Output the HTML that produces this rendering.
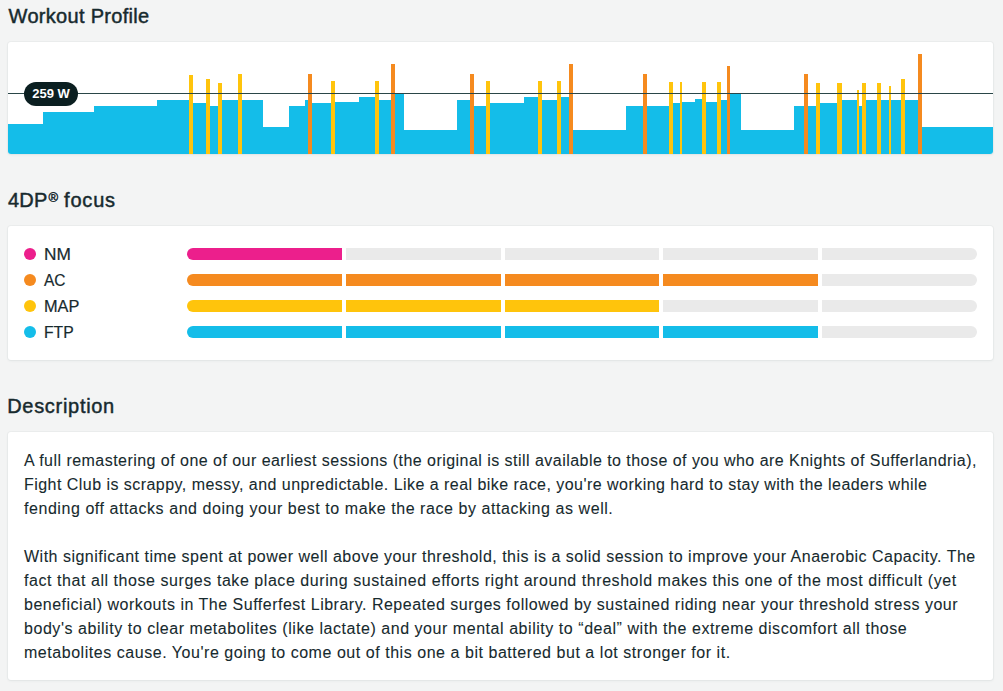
<!DOCTYPE html>
<html><head><meta charset="utf-8">
<style>
*{margin:0;padding:0;box-sizing:border-box}
html,body{width:1003px;height:691px;overflow:hidden;background:#f3f4f4}
body{position:relative;font-family:"Liberation Sans",Arial,sans-serif;color:#172a2e}
.h{position:absolute;left:8px;font-size:20px;line-height:24px;white-space:nowrap;color:#172a2e}
.card{position:absolute;left:8px;width:985px;background:#fff;border-radius:3px;overflow:hidden;box-shadow:0 0 0 1px rgba(40,60,60,0.03),0 1px 3px rgba(40,60,60,0.06)}
#chart{top:42px;height:112px}
#chart svg{position:absolute;left:0;top:0;display:block}
.badge{position:absolute;left:16px;top:40px;width:54px;height:24px;border-radius:12px;background:#0b1f21;color:#fff;font-weight:bold;font-size:13px;line-height:24px;text-align:center}
#fdp{top:226px;height:134px}
.row{position:absolute;left:0;width:985px;height:12px}
.dot{position:absolute;left:16px;top:0;width:12px;height:12px;border-radius:50%}
.lab{position:absolute;left:35.6px;top:-5px;font-size:16px;transform-origin:0 0;line-height:24px;white-space:nowrap;-webkit-text-stroke:0.2px currentColor}
.reg{font-size:13px;position:relative;top:-5px;margin-left:1px;margin-right:1px}
.h{-webkit-text-stroke:0.45px currentColor}
.ln{-webkit-text-stroke:0.08px currentColor}
.segs{position:absolute;left:179px;top:0;width:790px;height:12px;display:flex;gap:4px;border-radius:6px;overflow:hidden}
.segs i{flex:1;height:12px}
#desc{top:432px;height:248px}
.ln{position:absolute;left:16px;font-size:16px;line-height:24px;white-space:nowrap}
</style></head><body>
<div class="h" style="top:4px;left:8.6px;letter-spacing:0.3px">Workout Profile</div>
<div class="card" id="chart">
<svg width="985" height="112" viewBox="0 0 985 112" shape-rendering="crispEdges">
<path d="M0,112 L0,82 L35,82 L35,70 L86,70 L86,64 L149,64 L149,58 L185,58 L185,61 L198,61 L198,64 L210,64 L210,58 L255,58 L255,85 L281,85 L281,64 L297,64 L297,58 L304,58 L304,61 L323,61 L323,60 L351,60 L351,55 L367,55 L367,58 L383,58 L383,52 L396,52 L396,88 L449,88 L449,58 L462,58 L462,64 L478,64 L478,61 L516,61 L516,55 L530,55 L530,58 L549,58 L549,55 L561,55 L561,88 L618,88 L618,64 L661,64 L661,61 L672,61 L672,60 L687,60 L687,57 L694,57 L694,60 L709,60 L709,58 L719,58 L719,52 L733,52 L733,88 L786,88 L786,64 L808,64 L808,61 L829,61 L829,58 L849,58 L849,64 L854,64 L854,58 L910,58 L910,85 L985,85 L985,112 Z" fill="#14bde9"/>
<rect x="181" y="33" width="4" height="79" fill="#ffc40c"/>
<rect x="198" y="37" width="4" height="75" fill="#ffc40c"/>
<rect x="210" y="41" width="4" height="71" fill="#ffc40c"/>
<rect x="230" y="32" width="4" height="80" fill="#ffc40c"/>
<rect x="300" y="32" width="4" height="80" fill="#f58a1f"/>
<rect x="323" y="39" width="4" height="73" fill="#ffc40c"/>
<rect x="367" y="39" width="4" height="73" fill="#ffc40c"/>
<rect x="383" y="22" width="4" height="90" fill="#f58a1f"/>
<rect x="462" y="32" width="4" height="80" fill="#f58a1f"/>
<rect x="478" y="39" width="4" height="73" fill="#ffc40c"/>
<rect x="530" y="39" width="4" height="73" fill="#ffc40c"/>
<rect x="549" y="39" width="4" height="73" fill="#ffc40c"/>
<rect x="561" y="22" width="4" height="90" fill="#f58a1f"/>
<rect x="635" y="32" width="4" height="80" fill="#f58a1f"/>
<rect x="661" y="40" width="4" height="72" fill="#ffc40c"/>
<rect x="672" y="40" width="2" height="72" fill="#ffc40c"/>
<rect x="694" y="40" width="4" height="72" fill="#ffc40c"/>
<rect x="709" y="40" width="4" height="72" fill="#ffc40c"/>
<rect x="719" y="24" width="3" height="88" fill="#f58a1f"/>
<rect x="796" y="32" width="4" height="80" fill="#f58a1f"/>
<rect x="808" y="41" width="4" height="71" fill="#ffc40c"/>
<rect x="829" y="41" width="4.5" height="71" fill="#ffc40c"/>
<rect x="849" y="48" width="2" height="64" fill="#ffc40c"/>
<rect x="854" y="41" width="4" height="71" fill="#ffc40c"/>
<rect x="869" y="41" width="4" height="71" fill="#ffc40c"/>
<rect x="881" y="44" width="2" height="68" fill="#ffc40c"/>
<rect x="893" y="37" width="4" height="75" fill="#ffc40c"/>
<rect x="910" y="12" width="4" height="100" fill="#f58a1f"/>
<rect x="0" y="51" width="985" height="1" fill="#2a4648"/>
</svg>
<div class="badge">259 W</div>
</div>
<div class="h" style="top:188px;letter-spacing:0.2px">4DP<span class="reg">&reg;</span> <span style="letter-spacing:0.8px;margin-left:-1px">focus</span></div>
<div class="card" id="fdp">
<div class="row" style="top:22px"><b class="dot" style="background:#ec1f8c"></b><span class="lab" style="transform:scaleX(1.08)">NM</span><div class="segs"><i style="background:#ec1f8c"></i><i style="background:#eaeaea"></i><i style="background:#eaeaea"></i><i style="background:#eaeaea"></i><i style="background:#eaeaea"></i></div></div>
<div class="row" style="top:48px"><b class="dot" style="background:#f58a1f"></b><span class="lab" style="transform:scaleX(0.97)">AC</span><div class="segs"><i style="background:#f58a1f"></i><i style="background:#f58a1f"></i><i style="background:#f58a1f"></i><i style="background:#f58a1f"></i><i style="background:#eaeaea"></i></div></div>
<div class="row" style="top:74px"><b class="dot" style="background:#ffc40c"></b><span class="lab" style="transform:scaleX(1.02)">MAP</span><div class="segs"><i style="background:#ffc40c"></i><i style="background:#ffc40c"></i><i style="background:#ffc40c"></i><i style="background:#eaeaea"></i><i style="background:#eaeaea"></i></div></div>
<div class="row" style="top:100px"><b class="dot" style="background:#14bde9"></b><span class="lab" style="transform:scaleX(0.98)">FTP</span><div class="segs"><i style="background:#14bde9"></i><i style="background:#14bde9"></i><i style="background:#14bde9"></i><i style="background:#14bde9"></i><i style="background:#eaeaea"></i></div></div>
</div>
<div class="h" style="top:394px;left:7.2px;letter-spacing:0.7px">Description</div>
<div class="card" id="desc">
<div class="ln" style="top:17px;letter-spacing:0.4632px">A full remastering of one of our earliest sessions (the original is still available to those of you who are Knights of Sufferlandria),</div>
<div class="ln" style="top:41px;letter-spacing:0.4595px">Fight Club is scrappy, messy, and unpredictable. Like a real bike race, you're working hard to stay with the leaders while</div>
<div class="ln" style="top:65px;letter-spacing:0.5584px">fending off attacks and doing your best to make the race by attacking as well.</div>
<div class="ln" style="top:113px;letter-spacing:0.4960px">With significant time spent at power well above your threshold, this is a solid session to improve your Anaerobic Capacity. The</div>
<div class="ln" style="top:137px;letter-spacing:0.5556px">fact that all those surges take place during sustained efforts right around threshold makes this one of the most difficult (yet</div>
<div class="ln" style="top:161px;letter-spacing:0.5041px">beneficial) workouts in The Sufferfest Library. Repeated surges followed by sustained riding near your threshold stress your</div>
<div class="ln" style="top:185px;letter-spacing:0.5455px">body's ability to clear metabolites (like lactate) and your mental ability to “deal” with the extreme discomfort all those</div>
<div class="ln" style="top:209px;letter-spacing:0.5417px">metabolites cause. You're going to come out of this one a bit battered but a lot stronger for it.</div>
</div>
</body></html>
